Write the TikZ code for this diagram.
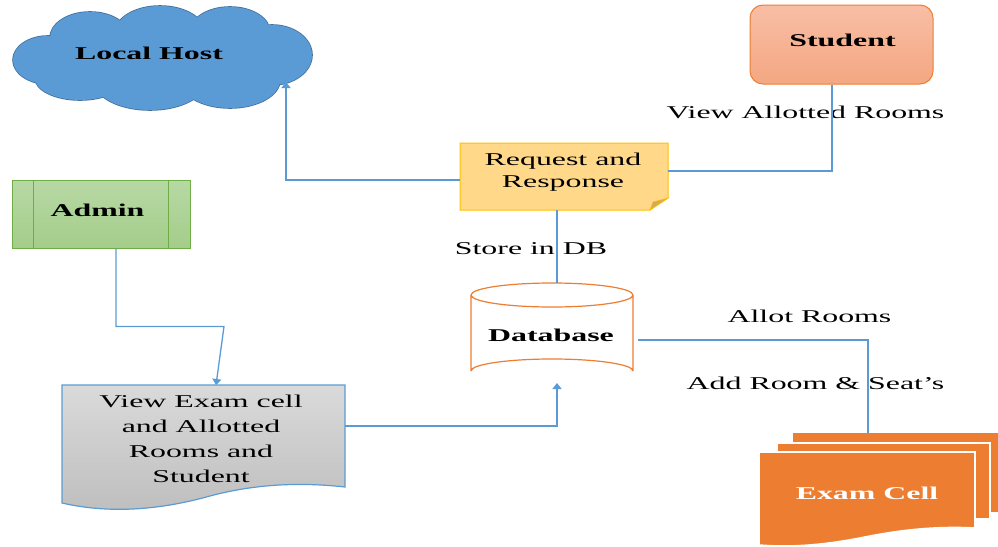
\documentclass[tikz,border=0pt]{standalone}
\usepackage{fontspec}
\setmainfont[FakeStretch=1.77]{Liberation Serif}
\usetikzlibrary{shapes.geometric,arrows.meta,calc}

\definecolor{cloudblue}{RGB}{91,155,213}
\definecolor{cloudedge}{RGB}{65,113,156}
\definecolor{wire}{RGB}{91,155,213}
\definecolor{orng}{RGB}{237,125,49}
\definecolor{stutop}{RGB}{248,190,165}
\definecolor{stubot}{RGB}{244,167,130}
\definecolor{grntop}{RGB}{183,217,165}
\definecolor{grnbot}{RGB}{164,205,137}
\definecolor{grnedge}{RGB}{112,173,71}
\definecolor{notefill}{RGB}{255,217,137}
\definecolor{noteedge}{RGB}{255,192,0}
\definecolor{notefold}{RGB}{212,170,90}
\definecolor{doctop}{RGB}{218,218,218}
\definecolor{docbot}{RGB}{190,190,190}

\tikzset{
  conn/.style={draw=wire, line width=1.3pt},
  tip/.style={-{Triangle[width=9pt,length=6pt]}},
  txt/.style={anchor=base, inner sep=0pt, text=black},
  ghost/.style={inner sep=0pt, outer sep=0pt, draw=none},
}

% the puffs that make up the cloud outline
\newcommand{\cloudpuffs}{%
  (48,60) ellipse[x radius=35pt, y radius=24pt]
  (90,38) ellipse[x radius=40pt, y radius=26pt]
  (160,33) ellipse[x radius=45pt, y radius=27pt]
  (230,32) ellipse[x radius=40pt, y radius=25pt]
  (272,55) ellipse[x radius=40pt, y radius=30pt]
  (230,80) ellipse[x radius=50pt, y radius=28pt]
  (150,82) ellipse[x radius=55pt, y radius=28pt]
  (80,78) ellipse[x radius=45pt, y radius=22pt]
  (160,60) ellipse[x radius=120pt, y radius=35pt]}

\begin{document}
\begin{tikzpicture}[x=1pt, y=-1pt, font=\fontsize{18}{25}\selectfont]
\useasboundingbox (0,0) rectangle (998,546);

% ---- Local Host cloud
\node[ghost, minimum width=300pt, minimum height=107pt] (host) at (162,58) {};
\draw[cloudedge, line width=1.6pt] \cloudpuffs;
\fill[cloudblue] \cloudpuffs;
\coordinate (hostin) at (286,82);
\node[txt, font=\fontsize{18}{22}\selectfont\bfseries] (hostlbl) at (149,59) {Local Host};

% ---- Student
\node[rounded corners=13pt, draw=orng, line width=1pt,
      top color=stutop, bottom color=stubot,
      minimum width=183pt, minimum height=79pt] (student) at (841.5,44.5) {};
\node[txt, font=\fontsize{18}{22}\selectfont\bfseries] (studentlbl) at (842.5,46) {Student};

% ---- Request and Response (note with folded corner)
\node[ghost, minimum width=208pt, minimum height=67pt] (note) at (564,176.5) {};
\filldraw[fill=notefill, draw=noteedge, line width=1pt]
  (note.north west) -- (note.north east) -- ([yshift=12pt]note.south east)
  -- ([xshift=-18pt]note.south east) -- (note.south west) -- cycle;
\filldraw[fill=notefold, draw=noteedge, line width=0.6pt]
  ([yshift=12pt]note.south east) -- ([xshift=-18pt]note.south east)
  -- ([xshift=-15pt,yshift=8pt]note.south east) -- cycle;
\node[txt] (notel1) at (563,165) {Request and};
\node[txt] (notel2) at (563,187) {Response};

% ---- Admin (predefined process)
\node[draw=grnedge, line width=1pt, top color=grntop, bottom color=grnbot,
      minimum width=178pt, minimum height=68pt] (admin) at (101,214) {};
\draw[grnedge, line width=1pt]
  ([xshift=22pt]admin.north west) -- ([xshift=22pt]admin.south west)
  ([xshift=-22pt]admin.north east) -- ([xshift=-22pt]admin.south east);
\node[txt, font=\fontsize{18}{22}\selectfont\bfseries] (adminlbl) at (97.5,216) {Admin};

% ---- Document: View Exam cell ...
\node[ghost, minimum width=283pt, minimum height=120pt] (doc) at (203.5,445) {};
\path[top color=doctop, bottom color=docbot, draw=wire, line width=1.2pt]
  (62,385) -- (345,385) -- (345,487)
  .. controls (300,482) and (255,484) .. (210,496)
  .. controls (160,510) and (110,514) .. (62,503) -- cycle;
\node[txt] (docl1) at (201,407) {View Exam cell};
\node[txt] (docl2) at (201,432) {and Allotted};
\node[txt] (docl3) at (201,457) {Rooms and};
\node[txt] (docl4) at (201,482) {Student};

% ---- Database cylinder
\node[ghost, minimum width=162pt, minimum height=100pt] (db) at (552,333) {};
\path[fill=white] (471,295) arc[start angle=180, end angle=360, x radius=81pt, y radius=-12pt]
  -- (633,371) arc[start angle=0, end angle=-180, x radius=81pt, y radius=-12pt] -- cycle;
\draw[orng, line width=1.2pt]
  (552,295) ellipse[x radius=81pt, y radius=12pt]
  (471,295) -- (471,371) (633,295) -- (633,371)
  (471,371) arc[start angle=180, end angle=360, x radius=81pt, y radius=-12pt];
\node[txt, font=\fontsize{18}{22}\selectfont\bfseries] (dblbl) at (551,341) {Database};

% ---- Exam Cell (stack of documents)
\node[ghost, minimum width=239pt, minimum height=113pt] (exams) at (878.5,489.5) {};
\fill[orng] (793,433) -- (1005,433) -- (1005,512) -- (793,512) -- cycle;
\filldraw[fill=orng, draw=white, line width=1.6pt]
  (777,443) -- (990,443) -- (990,519) -- (777,519) -- cycle;
\filldraw[fill=orng, draw=white, line width=1.6pt]
  (759,452) -- (975,452) -- (975,528)
  .. controls (935,526) and (900,530) .. (865,537)
  .. controls (830,544) and (795,548) .. (759,545) -- cycle;
\node[txt, text=white, font=\fontsize{18}{22}\selectfont\bfseries] (examlbl) at (867,499) {Exam Cell};

% ---- connector labels
\node[txt] (lblview) at (805.5,118) {View Allotted Rooms};
\node[txt] (lblstore) at (531,254) {Store in DB};
\node[txt] (lblallot) at (809.5,322) {Allot Rooms};
\node[txt] (lbladd) at (815.5,389) {Add Room \& Seat’s};

% ---- connectors
\draw[conn] ([xshift=-9.5pt]student.south) |- ([yshift=5.5pt]note.east);
\draw[conn, tip] ([yshift=-3.5pt]note.west) -| (hostin);
\draw[conn] ([xshift=-7pt]note.south) -- ([xshift=-7pt]note.south |- db.north);
\draw[conn, tip] ([xshift=15pt]admin.south) -- ++(0,78) -- ++(108,0) -- ([xshift=12.5pt]doc.north);
\draw[conn, tip] ([yshift=19pt]doc.east) -| ([xshift=5pt]db.south);
\draw[conn] ([xshift=5pt,yshift=-7pt]db.east) -| ([xshift=-10.5pt]exams.north);
\end{tikzpicture}
\end{document}
